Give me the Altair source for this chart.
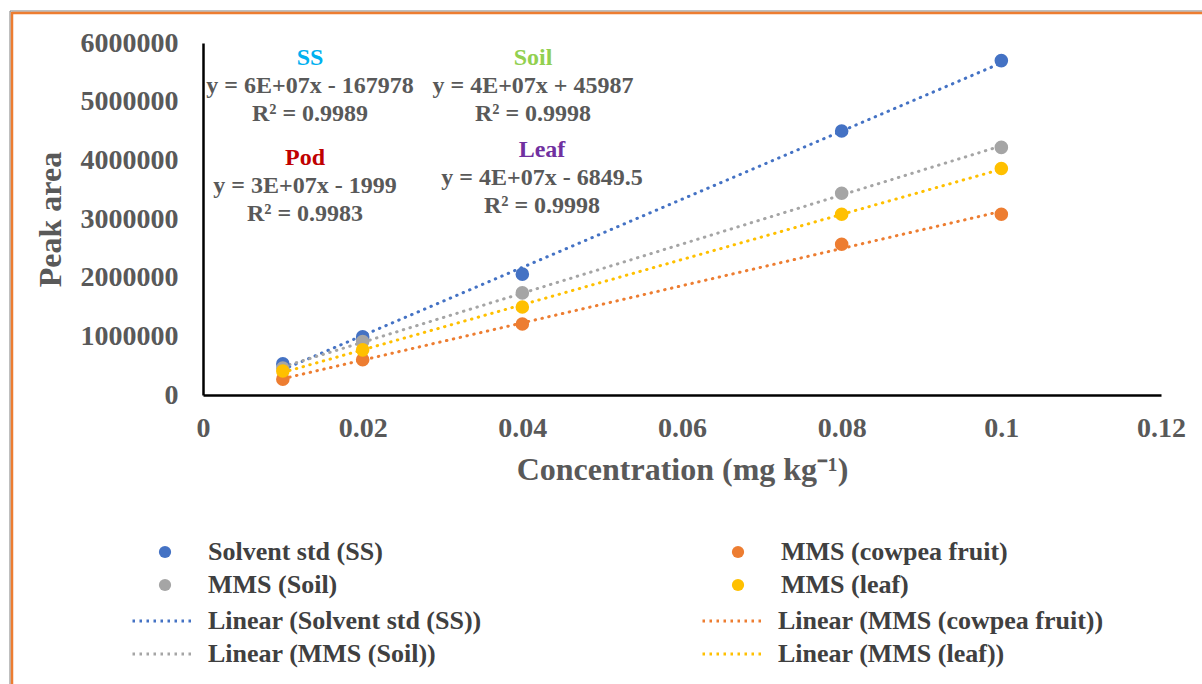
import altair as alt
import pandas as pd

# ---- data ----
conc = [0.01, 0.02, 0.04, 0.08, 0.1]
# legend order (the legend grid is filled column by column)
series_names = ["Solvent std (SS)", "MMS (Soil)", "MMS (cowpea fruit)", "MMS (leaf)"]
ss_area = [530000, 990000, 2060000, 4500000, 5700000]
soil_area = [460000, 910000, 1740000, 3440000, 4220000]
cowpea_area = [270000, 600000, 1210000, 2570000, 3080000]
leaf_area = [410000, 770000, 1500000, 3080000, 3860000]
series_colors = ["#4472C4", "#A5A5A5", "#ED7D31", "#FFC000"]

x_ticks = [0, 0.02, 0.04, 0.06, 0.08, 0.1, 0.12]
y_ticks = [0, 1000000, 2000000, 3000000, 4000000, 5000000, 6000000]

ann_labels = ["SS", "Soil", "Pod", "Leaf"]
ann_label_colors = ["#00B0F0", "#92D050", "#C00000", "#7030A0"]
ann_equations = ["y = 6E+07x - 167978", "y = 4E+07x + 45987", "y = 3E+07x - 1999", "y = 4E+07x - 6849.5"]
ann_r2 = ["R² = 0.9989", "R² = 0.9998", "R² = 0.9983", "R² = 0.9998"]

FONT = "Liberation Serif"
GREY = "#595959"

rows = []
for name, vals in zip(series_names, [ss_area, soil_area, cowpea_area, leaf_area]):
    for c, v in zip(conc, vals):
        rows.append({"series": name, "trend": "Linear (" + name + ")", "conc": c, "area": v})
df = pd.DataFrame(rows)

trend_names = ["Linear (" + n + ")" for n in series_names]
# legend rows of the trend lines: (SS, cowpea) and (Soil, leaf)
trend_row1 = [trend_names[0], trend_names[2]]
trend_row2 = [trend_names[1], trend_names[3]]
colors_row1 = [series_colors[0], series_colors[2]]
colors_row2 = [series_colors[1], series_colors[3]]

W, H = 958, 352
xscale = alt.Scale(domain=[0, 0.12], nice=False, zero=True)
yscale = alt.Scale(domain=[0, 6000000], nice=False)

x_axis = alt.Axis(values=x_ticks, format=".2~f", grid=False, ticks=False,
                  domainColor="black", domainWidth=2.5,
                  labelFont=FONT, labelFontSize=28, labelFontWeight="bold", labelColor=GREY,
                  labelPadding=19, labelFlush=False, labelOverlap=False,
                  title="Concentration (mg kg⁻¹)", titleFont=FONT, titleFontSize=32,
                  titleFontWeight="bold", titleColor=GREY, titleY=74, titleBaseline="middle")
y_axis = alt.Axis(values=y_ticks, format="d", grid=False, ticks=False,
                  domainColor="black", domainWidth=2.5,
                  labelFont=FONT, labelFontSize=28, labelFontWeight="bold", labelColor=GREY,
                  labelPadding=25, labelFlush=False, labelOverlap=False,
                  title="Peak area", titleFont=FONT, titleFontSize=32,
                  titleFontWeight="bold", titleColor=GREY, titleX=-153, titleY=H / 2,
                  titleAngle=270, titleBaseline="middle", titleAlign="center")

base = alt.Chart(df)


def line_legend(legend_y, col_pad):
    return alt.Legend(orient="none", legendX=-72, legendY=legend_y, columns=2,
                      columnPadding=col_pad, padding=0,
                      title=None, symbolType="stroke", symbolSize=3969,
                      symbolStrokeWidth=3, symbolDash=[2.5, 4.5],
                      labelFont=FONT, labelFontSize=26, labelFontWeight="bold",
                      labelColor="#404040", labelOffset=11, labelLimit=600)


line_mark = dict(strokeWidth=3, strokeDash=[0.5, 6.5], strokeCap="round")

lines_a = base.transform_filter(
    alt.FieldOneOfPredicate(field="trend", oneOf=trend_row1)
).transform_regression(
    "conc", "area", groupby=["trend"]
).mark_line(**line_mark).encode(
    x=alt.X("conc:Q", scale=xscale, axis=x_axis),
    y=alt.Y("area:Q", scale=yscale, axis=y_axis),
    stroke=alt.Stroke("trend:N", scale=alt.Scale(domain=trend_row1, range=colors_row1),
                      legend=line_legend(545, 214)),
)

lines_b = base.transform_filter(
    alt.FieldOneOfPredicate(field="trend", oneOf=trend_row2)
).transform_regression(
    "conc", "area", groupby=["trend"]
).mark_line(**line_mark).encode(
    x=alt.X("conc:Q", scale=xscale, axis=x_axis),
    y=alt.Y("area:Q", scale=yscale, axis=y_axis),
    color=alt.Color("trend:N", scale=alt.Scale(domain=trend_row2, range=colors_row2),
                    legend=line_legend(578, 259)),
)

points = base.mark_circle(size=185, opacity=1).encode(
    x=alt.X("conc:Q", scale=xscale, axis=x_axis),
    y=alt.Y("area:Q", scale=yscale, axis=y_axis),
    fill=alt.Fill("series:N", scale=alt.Scale(domain=series_names, range=series_colors),
                  legend=alt.Legend(orient="none", legendX=-51, legendY=496, columns=2,
                                    columnPadding=342, rowPadding=7, padding=0,
                                    title=None, symbolType="circle", symbolSize=150,
                                    symbolStrokeWidth=0,
                                    labelFont=FONT, labelFontSize=26, labelFontWeight="bold",
                                    labelColor="#404040", labelOffset=30, labelLimit=600)),
)

# annotation text blocks (pixel positions inside the plot area)
ann_pos = [(107, 15), (330, 15), (102, 115), (339, 107)]
texts = []
for i in range(4):
    px, py = ann_pos[i]
    for j, (txt, col) in enumerate([(ann_labels[i], ann_label_colors[i]),
                                     (ann_equations[i], GREY),
                                     (ann_r2[i], GREY)]):
        texts.append(
            alt.Chart(pd.DataFrame({"t": [txt]})).mark_text(
                font=FONT, fontSize=24, fontWeight="bold", color=col,
                align="center", baseline="middle"
            ).encode(x=alt.value(px), y=alt.value(py + j * 28), text="t:N")
        )

# outer frame of the chart (decoration)
one = pd.DataFrame({"a": [0]})
frame_top = alt.Chart(one).mark_rule(color="#ED7D31", strokeWidth=2.5).encode(
    x=alt.value(-191), x2=alt.value(1000), y=alt.value(-30))
frame_left = alt.Chart(one).mark_rule(color="#ED7D31", strokeWidth=2.5).encode(
    x=alt.value(-191), y=alt.value(-31), y2=alt.value(645))
frame_top_dark = alt.Chart(one).mark_rule(color="#7F7F7F", strokeWidth=1).encode(
    x=alt.value(-193), x2=alt.value(1000), y=alt.value(-32))
frame_left_dark = alt.Chart(one).mark_rule(color="#7F7F7F", strokeWidth=1).encode(
    x=alt.value(-193), y=alt.value(-32), y2=alt.value(645))

chart = alt.layer(
    frame_top_dark, frame_left_dark, frame_top, frame_left,
    lines_a, lines_b, points, *texts
).resolve_scale(
    fill="independent", stroke="independent", color="independent"
).properties(
    width=W, height=H,
    padding={"left": 203, "top": 43, "right": 41, "bottom": 289},
    autosize=alt.AutoSizeParams(type="none"),
    background="white",
).configure_view(stroke=None)

chart.save("out.html", embed_options={"renderer": "svg", "actions": False})
